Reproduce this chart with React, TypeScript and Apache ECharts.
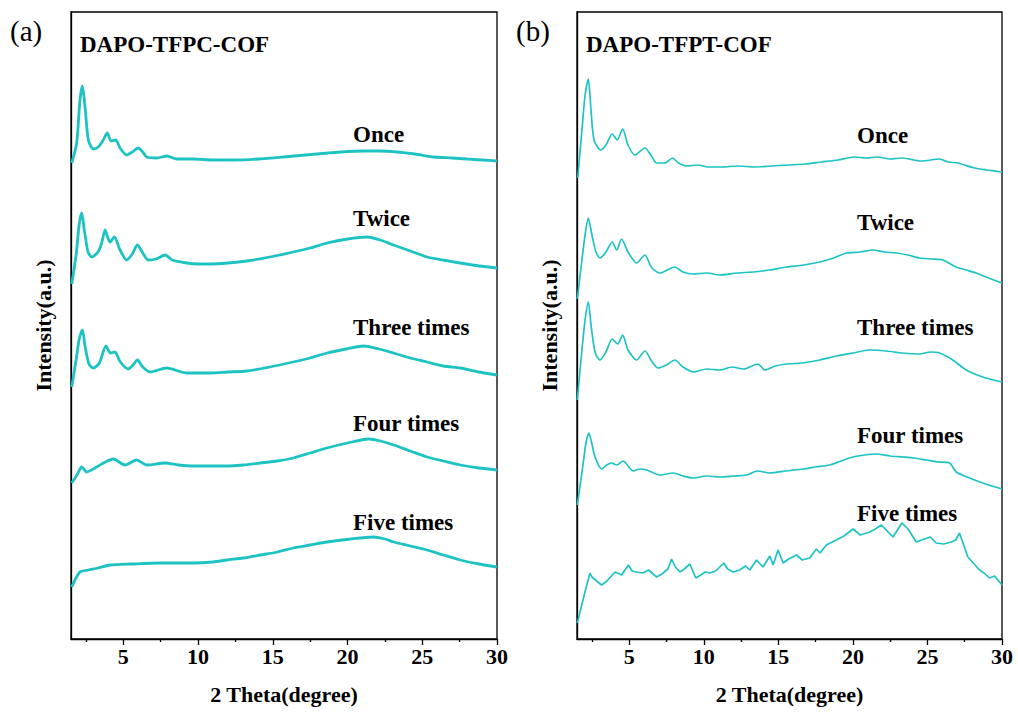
import React, { useEffect, useRef } from 'react';
import * as echarts from 'echarts';

const xTicksMajor = [5, 10, 15, 20, 25, 30];
const xTicksMinor = [2.5, 7.5, 12.5, 17.5, 22.5, 27.5];
const curveNames = ['Once', 'Twice', 'Three times', 'Four times', 'Five times'];
const panelTitles = ['DAPO-TFPC-COF', 'DAPO-TFPT-COF'];
const panelTags = ['(a)', '(b)'];

// Panel (a) DAPO-TFPC-COF, stacked intensities (a.u.)
const tfpcOnce: number[][] = [[1.55,476],[1.88,496],[2.10,539],[2.26,553],[2.44,532],[2.66,499],[2.99,490],[3.33,492],[3.66,499],[3.93,506],[4.18,498],[4.49,499],[4.78,491],[5.23,484],[5.6,487],[6.01,491],[6.3,487],[6.57,482],[7.24,481],[7.91,483],[8.58,480],[9.69,480],[11,479],[12.5,479],[14,480],[15.7,482],[17.2,484],[18.7,486],[20,487.5],[21.06,488],[22.2,488],[23.3,487],[24.5,485],[25.8,482],[27,481],[28,480],[29,479],[30,478]];
const tfpcTwice: number[][] = [[1.55,355],[1.85,385],[2.05,415],[2.22,426],[2.4,408],[2.64,387],[2.89,382],[3.31,387],[3.55,396],[3.78,409],[3.95,402],[4.11,397],[4.40,402],[4.78,389],[5.23,379],[5.6,385],[5.94,394],[6.3,386],[6.66,379],[7.19,380],[7.80,384],[8.27,379],[9.25,376],[10.0,375],[10.81,375],[12,376],[13.27,378],[14.8,382],[16.37,387],[17.5,391],[18.63,396],[20,400],[21.31,402],[22.2,399],[23.07,394],[24.2,388],[25.32,382],[26.4,379],[27.55,376],[28.8,373],[30,371]];
const tfpcThree: number[][] = [[1.55,252],[1.85,280],[2.05,300],[2.26,309],[2.45,292],[2.7,275],[2.99,271],[3.4,276],[3.84,293],[4.14,286],[4.43,287],[4.8,277],[5.33,270],[5.65,274],[5.94,279],[6.3,272],[6.79,267],[7.9,271],[9.25,266],[10.81,266],[12,267],[13.27,268],[14.8,272],[16.37,277],[17.5,281],[18.63,286],[19.9,290],[21.08,293],[22.1,290],[23.07,286],[24.2,281],[25.32,277],[26.4,273],[27.55,271],[28.8,267],[30,264]];
const tfpcFour: number[][] = [[1.55,156],[1.9,164],[2.22,172],[2.55,167],[3.22,172],[3.8,177],[4.33,180],[5.11,174],[5.89,179],[6.56,174],[7.8,176],[8.7,174],[9.69,173],[10.8,173],[11.92,173],[13,174],[14.16,176],[15.3,178],[16.38,181],[17.5,186],[18.62,191],[20,196],[21.41,200],[22.2,198],[23.09,194],[24.2,188],[25.32,182],[26.4,178],[27.55,174],[28.8,171],[30,169]];
const tfpcFive: number[][] = [[1.55,52],[1.8,60],[2.1,67],[2.66,69],[3.3,71],[4.11,74],[5.5,75],[7.46,76],[9.69,76],[11.0,77],[11.92,79],[13,81],[14.16,84],[15.3,87],[16.38,91],[17.5,94],[18.62,97],[20.2,100],[21.72,102],[22.5,100],[23.09,97],[24.2,93],[25.32,89],[26.4,84],[27.55,79],[28.8,75],[30,72]];

// Panel (b) DAPO-TFPT-COF
const tfptOnce: number[][] = [[1.55,461],[1.83,509],[2.05,545],[2.26,560],[2.44,529],[2.64,499],[3.09,489],[3.44,494],[3.86,505],[4.20,499],[4.56,510],[4.92,494],[5.38,484],[6.05,491],[6.45,484],[6.84,476],[7.39,476],[7.91,481],[8.3,476],[8.85,473],[9.6,474],[10.3,472],[11.19,472],[12.3,473],[13.42,472],[14.5,473],[15.65,474],[16.8,475],[17.89,477],[19,479],[20.12,482],[20.9,481],[21.68,482],[22.5,480],[23.25,481],[24.59,478],[25.81,480],[26.4,477],[27.04,476],[28.16,471],[29,469],[30,467]];
const tfptTwice: number[][] = [[1.52,340],[1.83,379],[2.05,405],[2.26,421],[2.5,404],[2.77,387],[3.04,381],[3.44,387],[3.86,397],[4.16,389],[4.49,400],[4.92,387],[5.50,376],[6.05,384],[6.52,371],[7.06,366],[8.06,372],[8.6,367],[9.29,365],[10.2,366],[11.08,364],[12.2,366],[13.31,367],[14.4,369],[15.55,372],[16.7,374],[17.78,377],[18.7,381],[19.56,386],[20.5,387],[21.35,389],[22.1,387],[22.91,386],[23.7,384],[24.47,381],[25.3,380],[26.03,379],[26.93,372],[27.6,369],[28.27,366],[29.1,361],[30,356]];
const tfptThree: number[][] = [[1.52,239],[1.83,289],[2.05,320],[2.26,337],[2.44,314],[2.71,287],[3.04,279],[3.44,287],[3.86,300],[4.23,295],[4.56,304],[4.92,289],[5.50,279],[6.05,288],[6.5,278],[6.95,271],[7.5,274],[8.06,279],[8.6,272],[9.29,267],[10.2,270],[11.08,269],[11.9,272],[12.64,270],[13.64,275],[14.09,269],[14.8,273],[15.55,275],[16.6,276],[17.78,279],[18.9,283],[20.01,286],[21.1,289],[22.24,288],[23.3,286],[24.47,285],[25.2,287],[25.81,286],[26.7,279],[27.6,269],[28.71,262],[30,257]];
const tfptFour: number[][] = [[1.52,134],[1.9,174],[2.1,196],[2.30,206],[2.5,195],[2.71,182],[3.15,170],[3.5,174],[3.82,176],[4.16,174],[4.60,178],[5.27,168],[5.7,170],[6.17,169],[7.06,164],[7.95,166],[8.6,163],[9.29,161],[10.2,163],[11.08,162],[12.0,163],[12.87,164],[13.6,168],[14.43,166],[15.5,168],[16.66,170],[17.5,172],[18.45,174],[19.2,178],[20.01,182],[20.8,184],[21.57,185],[22.5,183],[23.36,182],[24.1,181],[24.92,179],[25.7,177],[26.48,176],[26.93,167],[27.82,161],[28.9,155],[30,150]];
const tfptFive: number[][] = [[1.52,16],[2.0,45],[2.37,66],[2.5,62],[2.82,58],[3.15,54],[3.5,58],[4.05,67],[4.5,64],[4.94,74],[5.2,68],[5.50,67],[5.9,66],[6.3,69],[6.84,62],[7.2,65],[7.6,70],[7.84,80],[8.1,72],[8.40,67],[8.7,70],[9.07,75],[9.47,61],[9.8,64],[10.1,67],[10.41,66],[10.8,68],[11.35,76],[11.6,70],[11.97,67],[12.4,69],[12.8,73],[13.09,69],[13.54,79],[13.98,72],[14.43,83],[14.65,74],[14.98,89],[15.32,76],[15.7,80],[16.22,84],[16.6,79],[17.11,81],[17.55,90],[17.8,86],[18.22,94],[18.89,99],[19.4,103],[20.01,110],[20.5,104],[21.12,107],[21.5,110],[21.91,114],[22.3,108],[22.69,102],[23.29,116],[23.7,110],[24.25,97],[24.8,100],[25.2,102],[25.59,96],[26.1,95],[26.60,97],[26.9,99],[27.15,106],[27.71,82],[28.49,69],[28.8,66],[29.16,61],[29.5,63],[30,54]];

const panels = [
  [tfpcOnce, tfpcTwice, tfpcThree, tfpcFour, tfpcFive],
  [tfptOnce, tfptTwice, tfptThree, tfptFour, tfptFive],
];

const FONT = "'Liberation Serif', 'Times New Roman', serif";
const LINE_COLOR = '#1DC3C3';

export default function App() {
  const ref = useRef<HTMLDivElement>(null);
  useEffect(() => {
    if (!ref.current) return;
    const chart = echarts.init(ref.current, undefined, { renderer: 'svg' });
    const gridLefts = [71, 577];
    const gridWidths = [426, 425];
    const labelPos = [
      [[353, 135], [353, 219], [353, 328], [353, 424], [353, 523]],
      [[857, 136], [857, 223], [857, 328], [857, 436], [857, 514]],
    ];
    const textStyleBold = { fontFamily: FONT, fontWeight: 'bold', fontSize: 22, color: '#000' };

    const grid: any[] = [];
    const xAxis: any[] = [];
    const yAxis: any[] = [];
    const series: any[] = [];
    const graphic: any[] = [];

    panels.forEach((curves, i) => {
      grid.push({
        left: gridLefts[i], top: 12, width: gridWidths[i], height: 627,
        show: true, borderColor: '#000', borderWidth: 1.3, backgroundColor: 'transparent',
      });
      xAxis.push({
        type: 'value', gridIndex: i, min: 1.5, max: 30, position: 'bottom',
        axisLine: { show: true, onZero: false, lineStyle: { color: '#000', width: 1.3 } },
        axisTick: { show: true, customValues: xTicksMajor, length: 6, lineStyle: { color: '#000', width: 1.3 } },
        axisLabel: { customValues: xTicksMajor, margin: 6, ...textStyleBold },
        splitLine: { show: false },
        name: '2 Theta(degree)', nameLocation: 'middle', nameGap: 44,
        nameTextStyle: textStyleBold,
      });
      xAxis.push({
        type: 'value', gridIndex: i, min: 1.5, max: 30, position: 'bottom',
        axisLine: { show: false },
        axisTick: { show: true, customValues: xTicksMinor, length: 3, lineStyle: { color: '#000', width: 1.3 } },
        axisLabel: { show: false },
        splitLine: { show: false },
      });
      yAxis.push({
        type: 'value', gridIndex: i, min: 0, max: 627,
        axisLine: { show: true, lineStyle: { color: '#000', width: 1.3 } },
        axisTick: { show: false }, axisLabel: { show: false }, splitLine: { show: false },
        name: 'Intensity(a.u.)', nameLocation: 'middle', nameGap: 17,
        nameTextStyle: textStyleBold,
      });
      curves.forEach((data, k) => {
        const jagged = i === 1 && k === 4;
        series.push({
          type: 'line', name: `${panelTitles[i]} ${curveNames[k]}`,
          xAxisIndex: 2 * i, yAxisIndex: i, data,
          showSymbol: false, symbol: 'none',
          smooth: jagged ? false : 0.25,
          lineStyle: { color: LINE_COLOR, width: i === 0 ? 2.8 : 1.7 },
          clip: true,
        });
        graphic.push({
          type: 'text', left: labelPos[i][k][0], top: labelPos[i][k][1] - 12,
          style: { text: curveNames[k], font: `bold 23px ${FONT}`, fill: '#000' },
        });
      });
      graphic.push({
        type: 'text', left: gridLefts[i] + 9, top: 33,
        style: { text: panelTitles[i], font: `bold 23px ${FONT}`, fill: '#000' },
      });
      graphic.push({
        type: 'text', left: gridLefts[i] - 61, top: 16,
        style: { text: panelTags[i], font: `29px ${FONT}`, fill: '#000' },
      });
    });

    chart.setOption({
      animation: false,
      backgroundColor: '#fff',
      grid, xAxis, yAxis, series, graphic,
    });
    return () => chart.dispose();
  }, []);
  return (
    <div
      ref={ref}
      style={{ position: 'fixed', left: 0, top: 0, width: 1018, height: 715, background: '#fff' }}
    />
  );
}
